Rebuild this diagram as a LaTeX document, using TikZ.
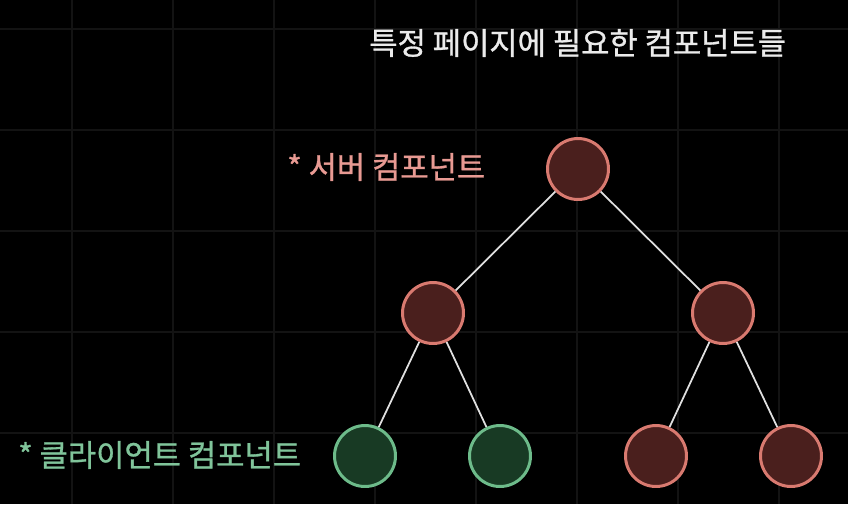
\documentclass[tikz,border=0pt]{standalone}
\usepackage{fontspec}
\setmainfont[FakeBold=1]{Noto Sans CJK KR}
\usepackage{tikz}

\definecolor{srvfill}{HTML}{4A1F1D}
\definecolor{srvline}{HTML}{D97A70}
\definecolor{srvtextcol}{HTML}{E89A93}
\definecolor{clifill}{HTML}{183A24}
\definecolor{cliline}{HTML}{6DBB8A}
\definecolor{clitextcol}{HTML}{80C49A}
\definecolor{gridcol}{HTML}{131313}

\tikzset{
  server/.style={circle,draw=srvline,fill=srvfill,line width=1.7pt,minimum size=1.22cm,inner sep=0pt},
  client/.style={circle,draw=cliline,fill=clifill,line width=1.7pt,minimum size=1.22cm,inner sep=0pt},
  edge/.style={draw=white!88!black,line width=1pt},
  label/.style={font=\fontsize{17.5}{20}\selectfont,anchor=west,inner sep=0pt}
}

\begin{document}
\begin{tikzpicture}[x=0.02cm,y=-0.02cm]
                    \fill[black] (0,0) rectangle (848,504);
                    \useasboundingbox (0,0) rectangle (848,504);
                    % grid
                    \foreach \gx in {72,173,274,375,476,577,678,779}
                      \draw[gridcol,line width=0.8pt] (\gx,0) -- (\gx,504);
                    \foreach \gy in {29,130,231,332,433}
                      \draw[gridcol,line width=0.8pt] (0,\gy) -- (848,\gy);
                    % tree
                    \node[server] (root) at (578,169) {};
                    \node[server] (midl) at (433,313) {};
                    \node[server] (midr) at (723,313) {};
                    \node[client] (leaf1) at (365,456) {};
                    \node[client] (leaf2) at (500,456) {};
                    \node[server] (leaf3) at (656,456) {};
                    \node[server] (leaf4) at (791,456) {};
                    \path[edge] (root) -- (midl) (root) -- (midr);
                    \path[edge] (midl) -- (leaf1) (midl) -- (leaf2);
                    \path[edge] (midr) -- (leaf3) (midr) -- (leaf4);
                    % texts
                    \node[label,text=white!92!black] (title) at (369,43) {특정 페이지에 필요한 컴포넌트들};
                    \node[label,text=srvtextcol] (srvtext) at (287,167) {* 서버 컴포넌트};
                    \node[label,text=clitextcol] (clitext) at (18,455) {* 클라이언트 컴포넌트};
                \end{tikzpicture}
\end{document}
